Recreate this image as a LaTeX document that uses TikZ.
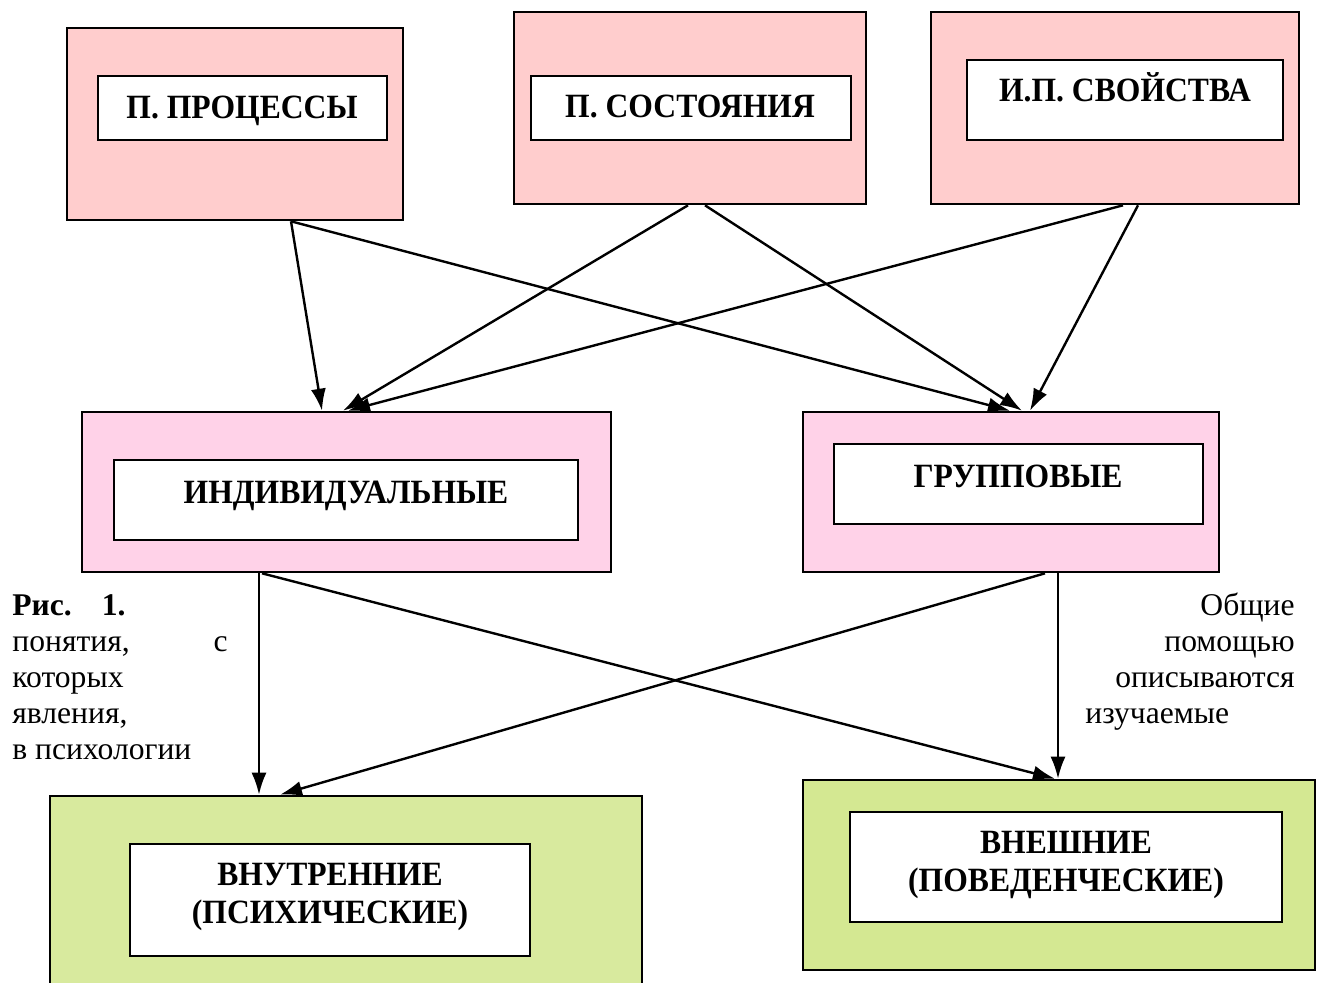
\documentclass[tikz,border=0pt]{standalone}
\usepackage{fontspec}
\setmainfont{Liberation Serif}
\newfontfamily\condserif[FakeStretch=0.93]{Liberation Serif}
\usetikzlibrary{fit,arrows.meta}
\definecolor{topPink}{RGB}{255,205,205}
\definecolor{midPink}{RGB}{255,210,232}
\definecolor{lowGreenA}{RGB}{216,234,158}
\definecolor{lowGreenB}{RGB}{212,232,146}
\tikzset{
  outerbox/.style={draw=black, line width=1.3pt, inner sep=0pt},
  innerbox/.style={draw=black, fill=white, line width=1pt, inner sep=0pt},
  boxlabel/.style={font=\condserif\fontsize{17}{19}\selectfont\bfseries, align=center, inner sep=0pt, anchor=base},
  captxt/.style={font=\fontsize{15.8}{18}\selectfont, inner sep=0pt},
  capbold/.style={font=\fontsize{15.8}{18}\selectfont\bfseries, inner sep=0pt},
  conn/.style={line width=1.2pt, -{Latex[length=11pt,width=7.5pt]}}
}
\begin{document}
\begin{tikzpicture}[x=0.5pt,y=-0.5pt]
\clip (0,0) rectangle (1322,982);
\fill[white] (0,0) rectangle (1322,982);
% top boxes
\node[outerbox, fill=topPink, fit={(67,28) (403,220)}] (A) {};
\node[innerbox, fit={(98,76) (387,140)}] (Ai) {};
\node[boxlabel] (At) at (242,118) {П. ПРОЦЕССЫ};
\node[outerbox, fill=topPink, fit={(514,12) (866,204)}] (B) {};
\node[innerbox, fit={(531,76) (851,140)}] (Bi) {};
\node[boxlabel] (Bt) at (690,117) {П. СОСТОЯНИЯ};
\node[outerbox, fill=topPink, fit={(931,12) (1299,204)}] (C) {};
\node[innerbox, fit={(967,60) (1283,140)}] (Ci) {};
\node[boxlabel] (Ct) at (1125,101) {И.П. СВОЙСТВА};
% middle boxes
\node[outerbox, fill=midPink, fit={(82,412) (611,572)}] (D) {};
\node[innerbox, fit={(114,460) (578,540)}] (Di) {};
\node[boxlabel] (Dt) at (346,503) {ИНДИВИДУАЛЬНЫЕ};
\node[outerbox, fill=midPink, fit={(803,412) (1219,572)}] (E) {};
\node[innerbox, fit={(834,444) (1203,524)}] (Ei) {};
\node[boxlabel] (Et) at (1018,487) {ГРУППОВЫЕ};
% bottom boxes
\node[outerbox, fill=lowGreenA, fit={(50,796) (642,1000)}] (F) {};
\node[innerbox, fit={(130,844) (530,956)}] (Fi) {};
\node[boxlabel] (Ft) at (330,923) {ВНУТРЕННИЕ\\(ПСИХИЧЕСКИЕ)};
\node[outerbox, fill=lowGreenB, fit={(803,780) (1315,970)}] (G) {};
\node[innerbox, fit={(850,812) (1282,922)}] (Gi) {};
\node[boxlabel] (Gt) at (1066,891) {ВНЕШНИЕ\\(ПОВЕДЕНЧЕСКИЕ)};
% connectors
\draw[conn] (291,0 |- A.south) -- (322,0 |- D.north);
\draw[conn] (291,0 |- A.south) -- (1010,0 |- E.north);
\draw[conn] (688,0 |- B.south) -- (343,0 |- D.north);
\draw[conn] (705,0 |- B.south) -- (1022,0 |- E.north);
\draw[conn] (1123,0 |- C.south) -- (348,0 |- D.north);
\draw[conn] (1138,0 |- C.south) -- (1030,0 |- E.north);
\draw[conn] (259,0 |- D.south) -- (259,0 |- F.north);
\draw[conn] (262,0 |- D.south) -- (1055,0 |- G.north);
\draw[conn] (1045,0 |- E.south) -- (280,0 |- F.north);
\draw[conn] (1058,0 |- E.south) -- (1058,0 |- G.north);
% caption left
\node[capbold, anchor=base west] (c1) at (12,615) {Рис.};
\node[capbold, anchor=base east] (c1b) at (126,615) {1.};
\node[captxt, anchor=base west] (c2) at (12,651) {понятия,};
\node[captxt, anchor=base east] (c2b) at (228,651) {с};
\node[captxt, anchor=base west] (c3) at (12,687) {которых};
\node[captxt, anchor=base west] (c4) at (12,723) {явления,};
\node[captxt, anchor=base west] (c5) at (12,759) {в психологии};
% caption right
\node[captxt, anchor=base east] (r1) at (1295,615) {Общие};
\node[captxt, anchor=base east] (r2) at (1295,651) {помощью};
\node[captxt, anchor=base east] (r3) at (1295,687) {описываются};
\node[captxt, anchor=base west] (r4) at (1085,723) {изучаемые};
\end{tikzpicture}
\end{document}
